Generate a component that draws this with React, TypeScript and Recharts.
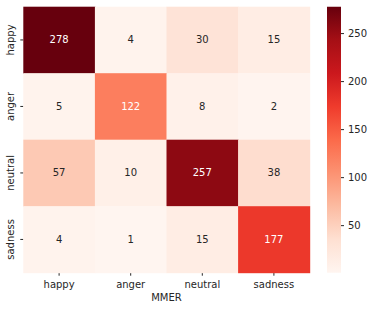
import {
    ScatterChart,
    Scatter,
    XAxis,
    YAxis,
    BarChart,
    Bar,
} from "recharts";

const LABELS=["happy","anger","neutral","sadness"];

const HAPPY=[278,4,30,15];
const ANGER=[5,122,8,2];
const NEUTRAL=[57,10,257,38];
const SADNESS=[4,1,15,177];

const ROWS=[HAPPY,ANGER,NEUTRAL,SADNESS];

const CB_TICKS=[50,100,150,200,250];

// matplotlib "Reds"
const REDS=[
    "#fff5f0","#fee0d2","#fcbba1","#fc9272","#fb6a4a",
    "#ef3b2c","#cb181d","#a50f15","#67000d",
];

const VMIN=1;
const VMAX=278;

const FONT="DejaVu Sans, sans-serif";
const TXT="#262626";

const PLOT_W=286.4;
const PLOT_H=266;

function hexToRgb(h:string){
    return [1,3,5].map(i=>parseInt(h.slice(i,i+2),16));
}

function reds(t:number){
    const p=Math.max(0,Math.min(1,t))*(REDS.length-1);
    const i=Math.min(Math.floor(p),REDS.length-2);
    const f=p-i;
    const a=hexToRgb(REDS[i]);
    const b=hexToRgb(REDS[i+1]);
    return a.map((v,k)=>v+(b[k]-v)*f);
}

function lum(rgb:number[]){
    const c=rgb.map(v=>{
        const s=v/255;
        return s<=0.03928?s/12.92:Math.pow((s+0.055)/1.055,2.4);
    });
    return 0.2126*c[0]+0.7152*c[1]+0.0722*c[2];
}

const cells=ROWS.flatMap((row,r)=>
    row.map((v,c)=>({x:c+0.5,y:r+0.5,v}))
);

const cbData=[{name:"cb",range:[VMIN,VMAX]}];

function HeatCell(props:any){
    const {cx,cy,payload}=props;
    const w=PLOT_W/4;
    const h=PLOT_H/4;
    const rgb=reds((payload.v-VMIN)/(VMAX-VMIN));
    const fill=`rgb(${rgb.map(Math.round).join(",")})`;
    const txt=lum(rgb)>0.408?TXT:"#ffffff";
    return(
        <g>
            <rect x={cx-w/2} y={cy-h/2} width={w+0.5} height={h+0.5} fill={fill}/>
            <text
                x={cx}
                y={cy}
                textAnchor="middle"
                dominantBaseline="central"
                fontSize={10}
                fontFamily={FONT}
                fill={txt}
            >
                {payload.v}
            </text>
        </g>
    );
}

function YTick(props:any){
    const {x,y,payload}=props;
    return(
        <text
            transform={`translate(${x-6},${y}) rotate(-90)`}
            textAnchor="middle"
            fontSize={10}
            fontFamily={FONT}
            fill={TXT}
        >
            {LABELS[Math.floor(payload.value)]}
        </text>
    );
}

export default function App(){

    return(

        <div style={{position:"absolute",left:0,top:0,width:374,height:311,background:"#fff"}}>

            <div style={{position:"absolute",left:0,top:0}}>

                <ScatterChart
                    width={320}
                    height={311}
                    margin={{top:6.7,right:10.3,bottom:0,left:0.3}}
                >

                    <XAxis
                        type="number"
                        dataKey="x"
                        domain={[0,4]}
                        ticks={[0.5,1.5,2.5,3.5]}
                        tickFormatter={(v:number)=>LABELS[Math.floor(v)]}
                        axisLine={false}
                        tickSize={3}
                        tickMargin={5}
                        tickLine={{stroke:TXT}}
                        tick={{fontSize:10,fontFamily:FONT,fill:TXT}}
                        height={38.3}
                        label={{
                            value:"MMER",
                            position:"insideBottom",
                            offset:10,
                            fontSize:10,
                            fontFamily:FONT,
                            fill:TXT,
                        }}
                    />

                    <YAxis
                        type="number"
                        dataKey="y"
                        domain={[0,4]}
                        reversed
                        ticks={[0.5,1.5,2.5,3.5]}
                        axisLine={false}
                        tickSize={3}
                        tickMargin={0}
                        tickLine={{stroke:TXT}}
                        tick={<YTick/>}
                        width={23}
                    />

                    <Scatter
                        data={cells}
                        shape={<HeatCell/>}
                        isAnimationActive={false}
                    />

                </ScatterChart>

            </div>

            <div style={{position:"absolute",left:320,top:0}}>

                <BarChart
                    width={60}
                    height={311}
                    data={cbData}
                    barCategoryGap={0}
                    margin={{top:6.7,right:0,bottom:38.3,left:7}}
                >

                    <defs>
                        <linearGradient id="redsGrad" x1="0" y1="1" x2="0" y2="0">
                            {REDS.map((c,i)=>(
                                <stop key={i} offset={i/(REDS.length-1)} stopColor={c}/>
                            ))}
                        </linearGradient>
                    </defs>

                    <XAxis dataKey="name" type="category" hide/>

                    <YAxis
                        orientation="right"
                        type="number"
                        domain={[VMIN,VMAX]}
                        ticks={CB_TICKS}
                        axisLine={false}
                        tickSize={3}
                        tickMargin={4}
                        tickLine={{stroke:TXT}}
                        tick={{fontSize:10,fontFamily:FONT,fill:TXT}}
                        width={39}
                    />

                    <Bar
                        dataKey="range"
                        fill="url(#redsGrad)"
                        isAnimationActive={false}
                    />

                </BarChart>

            </div>

        </div>
    );
}
